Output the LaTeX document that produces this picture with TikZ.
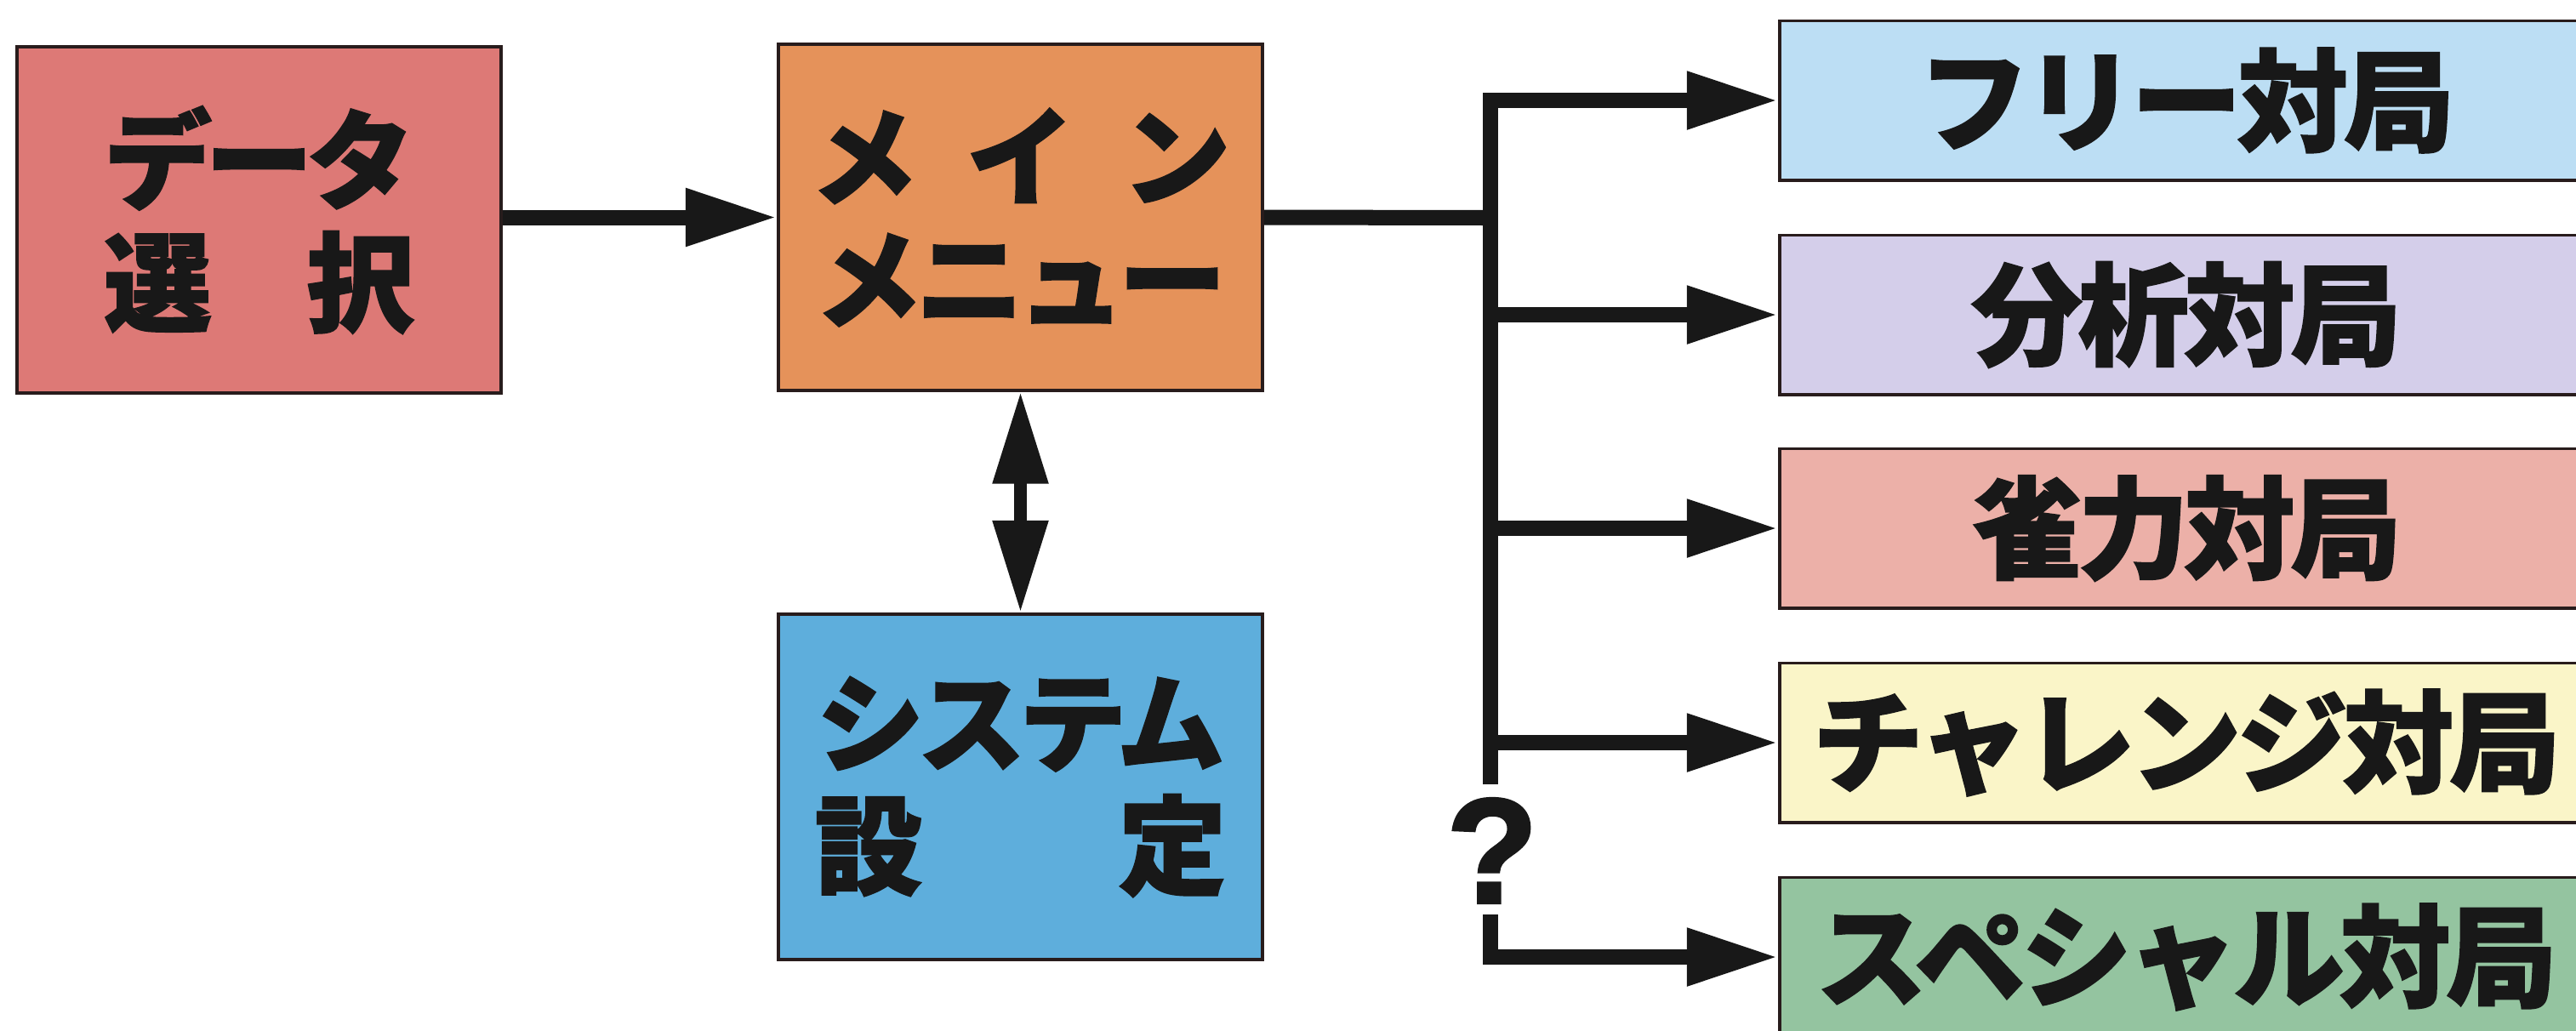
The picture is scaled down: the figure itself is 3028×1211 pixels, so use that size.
\documentclass[tikz,border=0pt]{standalone}
\usepackage{fontspec}
\newfontfamily\cjk[FakeBold=1.6,LetterSpace=-6]{Noto Sans CJK JP}
\newfontfamily\cjkmode[FakeBold=1.6,LetterSpace=-4]{Noto Sans CJK JP}
\newfontfamily\qfont[FakeBold=2]{Liberation Sans}
\usetikzlibrary{arrows.meta}
\definecolor{cdata}{RGB}{221,121,118}
\definecolor{cmenu}{RGB}{229,146,90}
\definecolor{csys}{RGB}{94,174,220}
\definecolor{cfree}{RGB}{188,222,244}
\definecolor{canal}{RGB}{212,206,234}
\definecolor{cjan}{RGB}{236,176,168}
\definecolor{cchal}{RGB}{250,245,200}
\definecolor{cspec}{RGB}{148,196,160}
\definecolor{boxline}{RGB}{40,28,28}
\definecolor{ink}{RGB}{24,24,24}
\begin{document}
\begin{tikzpicture}[x=0.01cm,y=-0.01cm,
  box/.style={draw=boxline,line width=1.1pt,inner sep=0pt,align=center,text=ink},
  bigbox/.style={box,minimum width=5.69cm,minimum height=4.06cm,font=\cjk\bfseries\fontsize{36}{41}\selectfont},
  modebox/.style={box,minimum width=9.56cm,minimum height=1.87cm,font=\cjkmode\bfseries\fontsize{37}{40}\selectfont},
  conn/.style={line width=0.18cm,draw=ink},
  arr/.style={conn,-{Triangle[length=1.07cm,width=0.64cm]}},
  darr/.style={line width=0.15cm,draw=ink,{Triangle[length=1.08cm,width=0.62cm]}-{Triangle[length=1.08cm,width=0.62cm]}}]
\useasboundingbox (0,0) rectangle (3028,1211);
\clip (0,0) rectangle (3028,1211);
\fill[white] (0,0) rectangle (3028,1211);
% main boxes
\node[bigbox,fill=cdata] (data) at (304.5,258.5) {データ\\選　択};
\node[bigbox,fill=cmenu] (menu) at (1199.5,255.5) {メ\hspace{0.45em}イ\hspace{0.45em}ン\\メニュー};
\node[bigbox,fill=csys] (sys) at (1199.5,925) {システム\\設　　定};
% mode boxes
\node[modebox,fill=cfree] (free) at (2570,118) {フリー対局};
\node[modebox,fill=canal] (anal) at (2570,370) {分析対局};
\node[modebox,fill=cjan] (jan) at (2570,621) {雀力対局};
\node[modebox,fill=cchal] (chal) at (2570,873) {チャレンジ対局};
\node[modebox,fill=cspec] (spec) at (2570,1125) {スペシャル対局};
% connectors
\coordinate (fork) at (1752,256);
\coordinate (qtop) at (1752,922);
\coordinate (qbot) at (1752,1075);
\draw[arr] (data.east |- menu.west) -- (menu.west);
\draw[conn] (menu.east) -- (fork);
\draw[darr] (menu.south) -- (sys.north);
\draw[arr] (qtop) |- (free.west);
\draw[arr] (qtop |- anal.west) -- (anal.west);
\draw[arr] (qtop |- jan.west) -- (jan.west);
\draw[arr] (qtop |- chal.west) -- (chal.west);
\draw[arr] (qbot) |- (spec.west);
\node[font=\qfont\bfseries\fontsize{50}{50}\selectfont,text=ink,inner sep=0pt] (q) at (1754,1000) {?};
\end{tikzpicture}
\end{document}
